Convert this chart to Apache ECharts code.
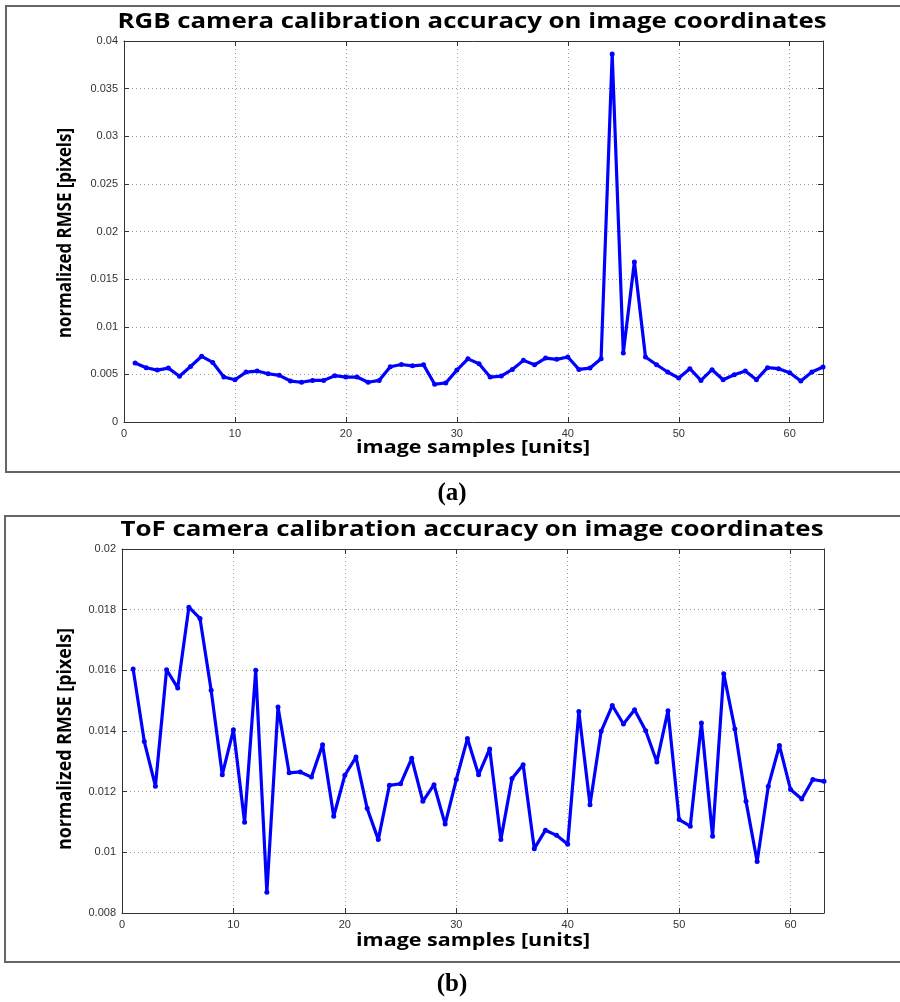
<!DOCTYPE html>
<html><head><meta charset="utf-8">
<script src="https://cdn.jsdelivr.net/npm/echarts@6/dist/echarts.min.js"></script>
<style>html,body{margin:0;padding:0;background:#fff}#c{width:900px;height:1002px}</style>
</head><body><div id="c"></div>
<script>
const samples = Array.from({length: 63}, (_, i) => i + 1);
const rgbRmse = [0.0062,0.0057,0.00545,0.00566,0.0048,0.00583,0.0069,0.00625,0.00472,0.00444,
0.00524,0.00535,0.00507,0.0049,0.0043,0.00417,0.00437,0.00437,0.00486,0.00472,
0.00472,0.00417,0.00437,0.0058,0.00604,0.0059,0.006,0.00396,0.0041,0.00545,
0.00663,0.00612,0.00472,0.00482,0.00552,0.00647,0.00601,0.00671,0.00658,0.00682,
0.00552,0.00566,0.00665,0.03864,0.00724,0.0168,0.00682,0.00601,0.00525,0.00461,
0.0056,0.00437,0.00549,0.00444,0.00496,0.00535,0.00444,0.0057,0.0056,0.00517,
0.0043,0.00525,0.00577];
const tofRmse = [0.01604,0.01365,0.01218,0.01602,0.01542,0.01808,0.01771,0.01534,0.01256,0.01404,
0.01099,0.016,0.00868,0.01479,0.01262,0.01265,0.01248,0.01355,0.01119,0.01254,
0.01314,0.01145,0.01042,0.01221,0.01226,0.0131,0.01168,0.01223,0.01093,0.0124,
0.01375,0.01256,0.01341,0.01042,0.01243,0.01289,0.01012,0.01073,0.01056,0.01027,
0.01464,0.01157,0.01399,0.01484,0.01423,0.0147,0.01401,0.01298,0.01467,0.01108,
0.01086,0.01426,0.01053,0.01589,0.01407,0.01168,0.0097,0.01218,0.01352,0.01207,
0.01176,0.0124,0.01234];
const titles = ['RGB camera calibration accuracy on image coordinates','ToF camera calibration accuracy on image coordinates'];
const xLabel = 'image samples [units]';
const yLabel = 'normalized RMSE [pixels]';
const captions = ['(a)','(b)'];

const chart = echarts.init(document.getElementById('c'), null, {renderer:'canvas'});
const tickFont = {fontFamily:'Liberation Sans', fontSize:11, color:'#333'};
const grid = {color:'#999', type:[1,3], width:1};

// measure text to stretch it horizontally like the reference
const mctx = document.createElement('canvas').getContext('2d');
function fitText(text, x, y, size, target, rotation){
  const font = 'bold ' + size + 'px "Open Sans"';
  mctx.font = font;
  const w = mctx.measureText(text).width;
  return {type:'text', x:x, y:y, rotation:rotation||0, scaleX: target / w, scaleY:1,
    style:{text:text, x:0, y:0, font:font, fill:'#000', align:'center', verticalAlign:'middle'}, silent:true};
}

function xAxes(gi){
  return [{
    gridIndex:gi, type:'value', min:0, max:63, interval:10, position:'bottom',
    axisLine:{onZero:false, lineStyle:{color:'#333', width:1}},
    axisTick:{inside:true, length:5, lineStyle:{color:'#333'}},
    axisLabel:Object.assign({margin:6, showMaxLabel:false}, tickFont),
    splitLine:{show:true, lineStyle:grid}
  },{
    gridIndex:gi, type:'value', min:0, max:63, interval:10, position:'top',
    axisLine:{onZero:false, lineStyle:{color:'#333', width:1}},
    axisTick:{inside:true, length:5, lineStyle:{color:'#333'}},
    axisLabel:{show:false}, splitLine:{show:false}
  }];
}
function yAxes(gi, min, max, interval){
  return [{
    gridIndex:gi, type:'value', min:min, max:max, interval:interval, position:'left',
    axisLine:{onZero:false, lineStyle:{color:'#333', width:1}},
    axisTick:{inside:true, length:5, lineStyle:{color:'#333'}},
    axisLabel:Object.assign({margin:6, formatter:v=>String(+v.toFixed(4))}, tickFont),
    splitLine:{show:true, lineStyle:grid}
  },{
    gridIndex:gi, type:'value', min:min, max:max, interval:interval, position:'right',
    axisLine:{onZero:false, lineStyle:{color:'#333', width:1}},
    axisTick:{inside:true, length:5, lineStyle:{color:'#333'}},
    axisLabel:{show:false}, splitLine:{show:false}
  }];
}
function lineSeries(xi, yi, vals){
  return {
    type:'line', xAxisIndex:xi, yAxisIndex:yi,
    data: samples.map((s,i)=>[s, vals[i]]),
    symbol:'circle', symbolSize:5, showSymbol:true,
    lineStyle:{color:'#0000ff', width:3.2},
    itemStyle:{color:'#0000ff'},
    animation:false
  };
}
chart.setOption({
  animation:false,
  backgroundColor:'#fff',
  grid:[
    {left:124, right:77, top:41, height:381},
    {left:122, right:76, top:549, height:364}
  ],
  xAxis:[...xAxes(0), ...xAxes(1)],
  yAxis:[...yAxes(0, 0, 0.04, 0.005), ...yAxes(1, 0.008, 0.02, 0.002)],
  series:[lineSeries(0,0,rgbRmse), lineSeries(2,2,tofRmse)],
  graphic:[
    {type:'rect', shape:{x:6, y:6, width:900, height:466}, style:{fill:'none', stroke:'#666', lineWidth:2}},
    {type:'rect', shape:{x:5, y:516, width:900, height:446}, style:{fill:'none', stroke:'#666', lineWidth:2}},
    fitText(titles[0], 472, 22, 21, 709),
    fitText(titles[1], 472, 530, 21, 703),
    fitText(xLabel, 473, 448, 18, 234),
    fitText(xLabel, 473, 941, 18, 234),
    fitText(yLabel, 66, 233, 19, 210, Math.PI/2),
    fitText(yLabel, 66, 739, 19, 222, Math.PI/2),
    {type:'text', x:452, y:494, style:{text:captions[0], fontFamily:'Liberation Serif', fontWeight:'bold', fontSize:25, fill:'#000', align:'center', verticalAlign:'middle'}},
    {type:'text', x:452, y:985, style:{text:captions[1], fontFamily:'Liberation Serif', fontWeight:'bold', fontSize:25, fill:'#000', align:'center', verticalAlign:'middle'}}
  ]
});
</script></body></html>
